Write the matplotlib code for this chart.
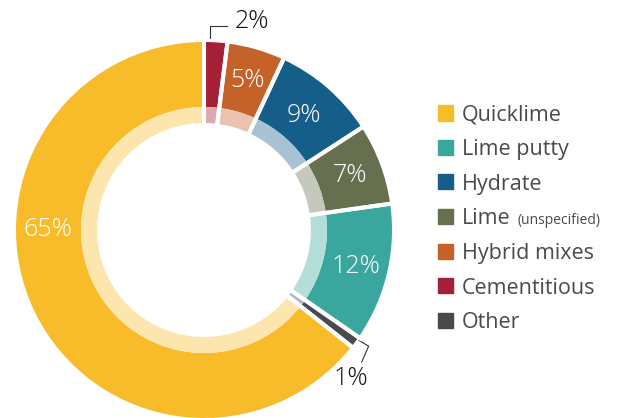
import numpy as np
import matplotlib.pyplot as plt
import matplotlib.colors as mcolors
from matplotlib.patches import Rectangle

plt.rcParams['font.family'] = ['Open Sans', 'DejaVu Sans']

# wedge order, clockwise from 12 o'clock
categories = ["Cementitious", "Hybrid mixes", "Hydrate", "Lime", "Lime putty", "Other", "Quicklime"]
shares = [2, 5, 9, 7, 12, 1, 65]
colors = ["#A51F36", "#C5622A", "#155E8A", "#66704F", "#3AA79E", "#4A4A4E", "#F8BC2A"]

legend_order = ["Quicklime", "Lime putty", "Hydrate", "Lime", "Hybrid mixes", "Cementitious", "Other"]
legend_notes = {"Lime": "(unspecified)"}
outside = ["Cementitious", "Other"]


def lighten(c, a=0.38):
    rgb = np.array(mcolors.to_rgb(c))
    return tuple(1 - a * (1 - rgb))


light_colors = [lighten(c) for c in colors]

R_OUT, R_MID, R_IN = 1.0, 0.654, 0.569

fig = plt.figure(figsize=(6.18, 4.18), dpi=100)
ax = fig.add_axes([0, 0, 1, 1])

wedges, _ = ax.pie(shares, colors=colors, radius=R_OUT, startangle=90, counterclock=False,
                   wedgeprops=dict(width=R_OUT - R_MID, linewidth=0))
ax.pie(shares, colors=light_colors, radius=R_MID, startangle=90, counterclock=False,
       wedgeprops=dict(width=R_MID - R_IN, linewidth=0))

# white gaps between slices
for w in wedges:
    for th in (w.theta1, w.theta2):
        t = np.deg2rad(th)
        ax.plot([0.55 * np.cos(t), 1.02 * np.cos(t)], [0.55 * np.sin(t), 1.02 * np.sin(t)],
                color="white", lw=2.9, solid_capstyle="butt", zorder=5)

# percentage labels
for name, val, w in zip(categories, shares, wedges):
    if name in outside:
        continue
    mid = (w.theta1 + w.theta2) / 2
    if name == "Quicklime":
        mid = 180  # big slice: label sits on the left
    mid = np.deg2rad(mid)
    r = 0.81 if name == "Hydrate" else 0.83
    ax.text(r * np.cos(mid), r * np.sin(mid), f"{val}%", color="white", fontsize=18,
            fontweight="light", ha="center", va="center", zorder=6)

# leader labels for the small slices
w = wedges[categories.index("Cementitious")]
t = np.deg2rad(w.theta1 + 0.75 * (w.theta2 - w.theta1))
p0 = np.array([1.02 * np.cos(t), 1.02 * np.sin(t)])
p1 = p0 + [0, 0.064]
p2 = p1 + [0.09, 0]
ax.plot([p0[0], p1[0], p2[0]], [p0[1], p1[1], p2[1]], color="#333333", lw=0.8, clip_on=False)
ax.text(p2[0] + 0.04, p1[1] + 0.027, f"{shares[0]}%", color="#111111", fontsize=18,
        fontweight="light", ha="left", va="center")

i = categories.index("Other")
w = wedges[i]
t = np.deg2rad(w.theta2 - 0.2 * (w.theta2 - w.theta1))
p0 = np.array([1.01 * np.cos(t), 1.01 * np.sin(t)])
p1 = p0 + [0.053, -0.032]
p2 = p1 + [-0.037, -0.085]
ax.plot([p0[0], p1[0], p2[0]], [p0[1], p1[1], p2[1]], color="#333333", lw=0.8, clip_on=False)
ax.text(p2[0] - 0.059, p2[1] - 0.085, f"{shares[i]}%", color="#111111", fontsize=18,
        fontweight="light", ha="center", va="center")

ax.set_xlim(-204 / 188, 414 / 188)
ax.set_ylim(-188 / 188, 230 / 188)
ax.axis("off")

# legend
renderer = fig.canvas.get_renderer()
for k, name in enumerate(legend_order):
    y = 1 - (113 + 34.5 * k) / 418
    c = colors[categories.index(name)]
    fig.patches.append(Rectangle((438 / 618, y - 7.5 / 418), 15 / 618, 15 / 418,
                                 transform=fig.transFigure, color=c))
    t = fig.text(462 / 618, y, name, color="#4A4A4A", fontsize=15.5, ha="left", va="center_baseline")
    if name in legend_notes:
        bb = t.get_window_extent(renderer)
        fig.text((bb.x1 + 7) / 618, y - 2 / 418, legend_notes[name], color="#4A4A4A", fontsize=10,
                 ha="left", va="center_baseline")

fig.savefig("out.png", dpi=100)
